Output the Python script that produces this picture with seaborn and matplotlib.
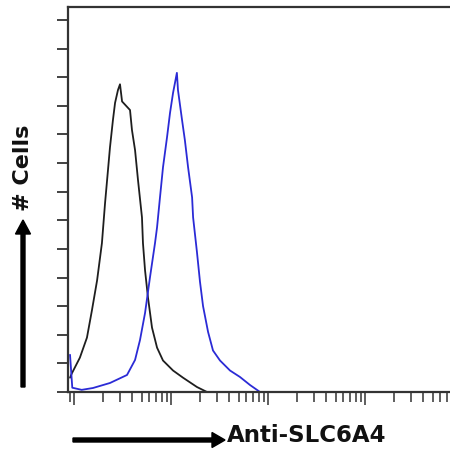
import matplotlib
matplotlib.use("Agg")
import matplotlib.pyplot as plt
import matplotlib.ticker as mticker
import seaborn as sns

# isotype control (black): intensity, cell count
control_x = [0.91, 0.95, 1.15, 1.36, 1.53, 1.73, 1.94, 2.09, 2.24, 2.35,
             2.52, 2.65, 2.84, 2.98, 3.13, 3.78, 3.96, 4.26, 4.57, 5.02,
             5.14, 5.40, 5.79, 6.37, 7.18, 8.27, 10.5, 13.3, 18.5, 23.5]
control_y = [10, 13, 24, 38, 57, 78, 104, 132, 155, 171,
             190, 202, 211, 215, 203, 197, 183, 169, 148, 122,
             104, 85, 66, 45, 31, 22, 15, 10, 3.5, 0]

# anti-SLC6A4 stained (blue)
stained_x = [0.91, 0.96, 1.2, 1.57, 2.35, 3.52, 4.26, 4.79, 5.40, 6.08,
             6.84, 7.18, 7.70, 8.27, 9.10, 9.77, 10.5, 11.5, 11.8, 13.0,
             13.9, 15.0, 16.5, 16.9, 18.5, 19.9, 21.4, 24.1, 27.1, 32.0,
             40.6, 51.4, 65.2, 82.7]
stained_y = [26, 3, 1.5, 2.8, 6.3, 11.9, 22.4, 36.3, 55.2, 80.4,
             104, 115, 136, 157, 178, 195, 209, 223, 211, 190,
             176, 157, 136, 122, 98, 77, 60, 42, 29, 22,
             15, 10.5, 4.9, 0]

y_ticks = list(range(0, 261, 20))

sns.set_style("ticks")
plt.rcParams['font.family'] = ['DejaVu Sans']

W, H = 450, 453
fig = plt.figure(figsize=(W / 100, H / 100), dpi=100)
# frame runs past the right edge like in the original crop
ax = fig.add_axes([68 / W, (H - 392) / H, (462 - 68) / W, 385 / H])

sns.lineplot(x=control_x, y=control_y, color="#1e1e1e", linewidth=1.3, ax=ax)
sns.lineplot(x=stained_x, y=stained_y, color="#2b2bd6", linewidth=1.3, ax=ax)

ax.set_xscale("log")
ax.set_xlim(10 ** (-6 / 97), 10 ** (388 / 97))
ax.set_ylim(0, 269)

ax.xaxis.set_major_locator(mticker.LogLocator(base=10, numticks=10))
ax.xaxis.set_minor_locator(mticker.LogLocator(base=10, subs=range(2, 10), numticks=20))
ax.xaxis.set_major_formatter(mticker.NullFormatter())
ax.xaxis.set_minor_formatter(mticker.NullFormatter())
ax.set_yticks(y_ticks)
ax.set_yticklabels([])
ax.tick_params(axis="y", which="major", direction="out", length=8, width=1.3, color="#333333")
ax.tick_params(axis="x", which="major", direction="out", length=9, width=1.1, color="#333333")
ax.tick_params(axis="x", which="minor", direction="out", length=7, width=1.1, color="#333333")

for side in ["top", "left", "bottom"]:
    ax.spines[side].set_linewidth(1.6)
    ax.spines[side].set_color("#333333")
ax.spines["right"].set_visible(False)
ax.set_xlabel("")
ax.set_ylabel("")

# axis labels with arrows, FlowJo style
fig.patches.append(matplotlib.patches.FancyArrow(
    23 / W, 1 - 387 / H, 0, (387 - 220) / H, width=4 / H, head_width=15 / W,
    head_length=14 / H, length_includes_head=True, color="black",
    transform=fig.transFigure, figure=fig))
fig.patches.append(matplotlib.patches.FancyArrow(
    73 / W, 1 - 440 / H, (225 - 73) / W, 0, width=4 / H, head_width=15 / H,
    head_length=13 / W, length_includes_head=True, color="black",
    transform=fig.transFigure, figure=fig))
fig.text(23 / W, 1 - 168 / H, "# Cells", rotation=90, ha="center", va="center",
         fontsize=16, fontweight="bold", color="#111111")
fig.text(227 / W, 1 - 435 / H, "Anti-SLC6A4", ha="left", va="center",
         fontsize=16.5, fontweight="bold", color="#111111")

fig.savefig("out.png", dpi=100)
